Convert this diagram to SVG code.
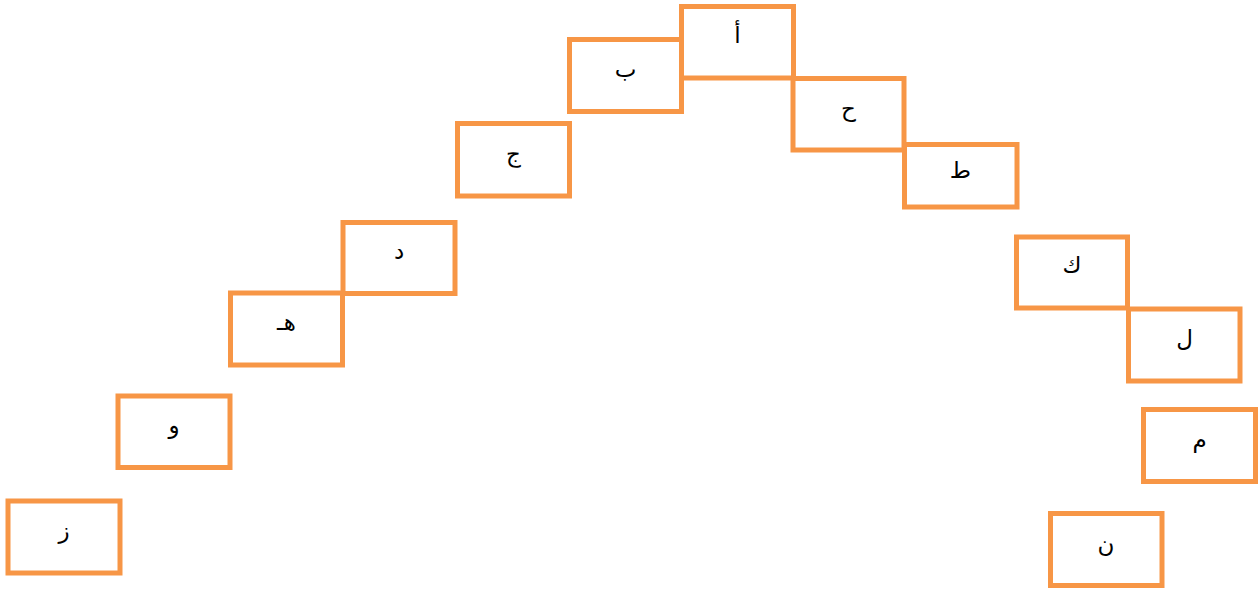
<svg xmlns="http://www.w3.org/2000/svg" width="1259" height="590" viewBox="0 0 1259 590">
<style>
.b{fill:#fff;stroke:#F79646;stroke-width:5}
.t{font-family:"DejaVu Sans","Noto Sans",sans-serif;font-size:23px;fill:#000;text-anchor:middle}
</style>
<rect width="1259" height="590" fill="#fff"/>
<g id="connectors"></g>
<g id="n-alef"><rect class="b" x="681.5" y="6.5" width="112" height="71.5"/><text class="t" x="737.5" y="43" direction="rtl">أ</text></g>
<g id="n-ba"><rect class="b" x="569.5" y="39.5" width="112" height="72"/><text class="t" x="625.5" y="77" direction="rtl">ب</text></g>
<g id="n-jim"><rect class="b" x="457.5" y="123.5" width="112" height="72.5"/><text class="t" x="513.5" y="162" direction="rtl">ج</text></g>
<g id="n-dal"><rect class="b" x="343" y="222.5" width="112" height="71"/><text class="t" x="399" y="259" direction="rtl">د</text></g>
<g id="n-ha"><rect class="b" x="230.5" y="293" width="112" height="72"/><text class="t" x="286.5" y="330" direction="rtl">هـ</text></g>
<g id="n-waw"><rect class="b" x="118" y="396" width="112" height="71.5"/><text class="t" x="174" y="433" direction="rtl">و</text></g>
<g id="n-zay"><rect class="b" x="8" y="501" width="112" height="72"/><text class="t" x="64" y="538" direction="rtl">ز</text></g>
<g id="n-hha"><rect class="b" x="793" y="78.5" width="111" height="71.5"/><text class="t" x="848.5" y="116" direction="rtl">ح</text></g>
<g id="n-tta"><rect class="b" x="904.5" y="144.5" width="112.5" height="62.5"/><text class="t" x="960.5" y="178" direction="rtl">ط</text></g>
<g id="n-kaf"><rect class="b" x="1016.5" y="237" width="111" height="71"/><text class="t" x="1072" y="273" direction="rtl">ك</text></g>
<g id="n-lam"><rect class="b" x="1128.5" y="309" width="111.5" height="72"/><text class="t" x="1184.5" y="346" direction="rtl">ل</text></g>
<g id="n-mim"><rect class="b" x="1143.5" y="409.5" width="112" height="72"/><text class="t" x="1199.5" y="447" direction="rtl">م</text></g>
<g id="n-nun"><rect class="b" x="1050.5" y="513.5" width="111.5" height="72"/><text class="t" x="1106" y="552" direction="rtl">ن</text></g>
</svg>
